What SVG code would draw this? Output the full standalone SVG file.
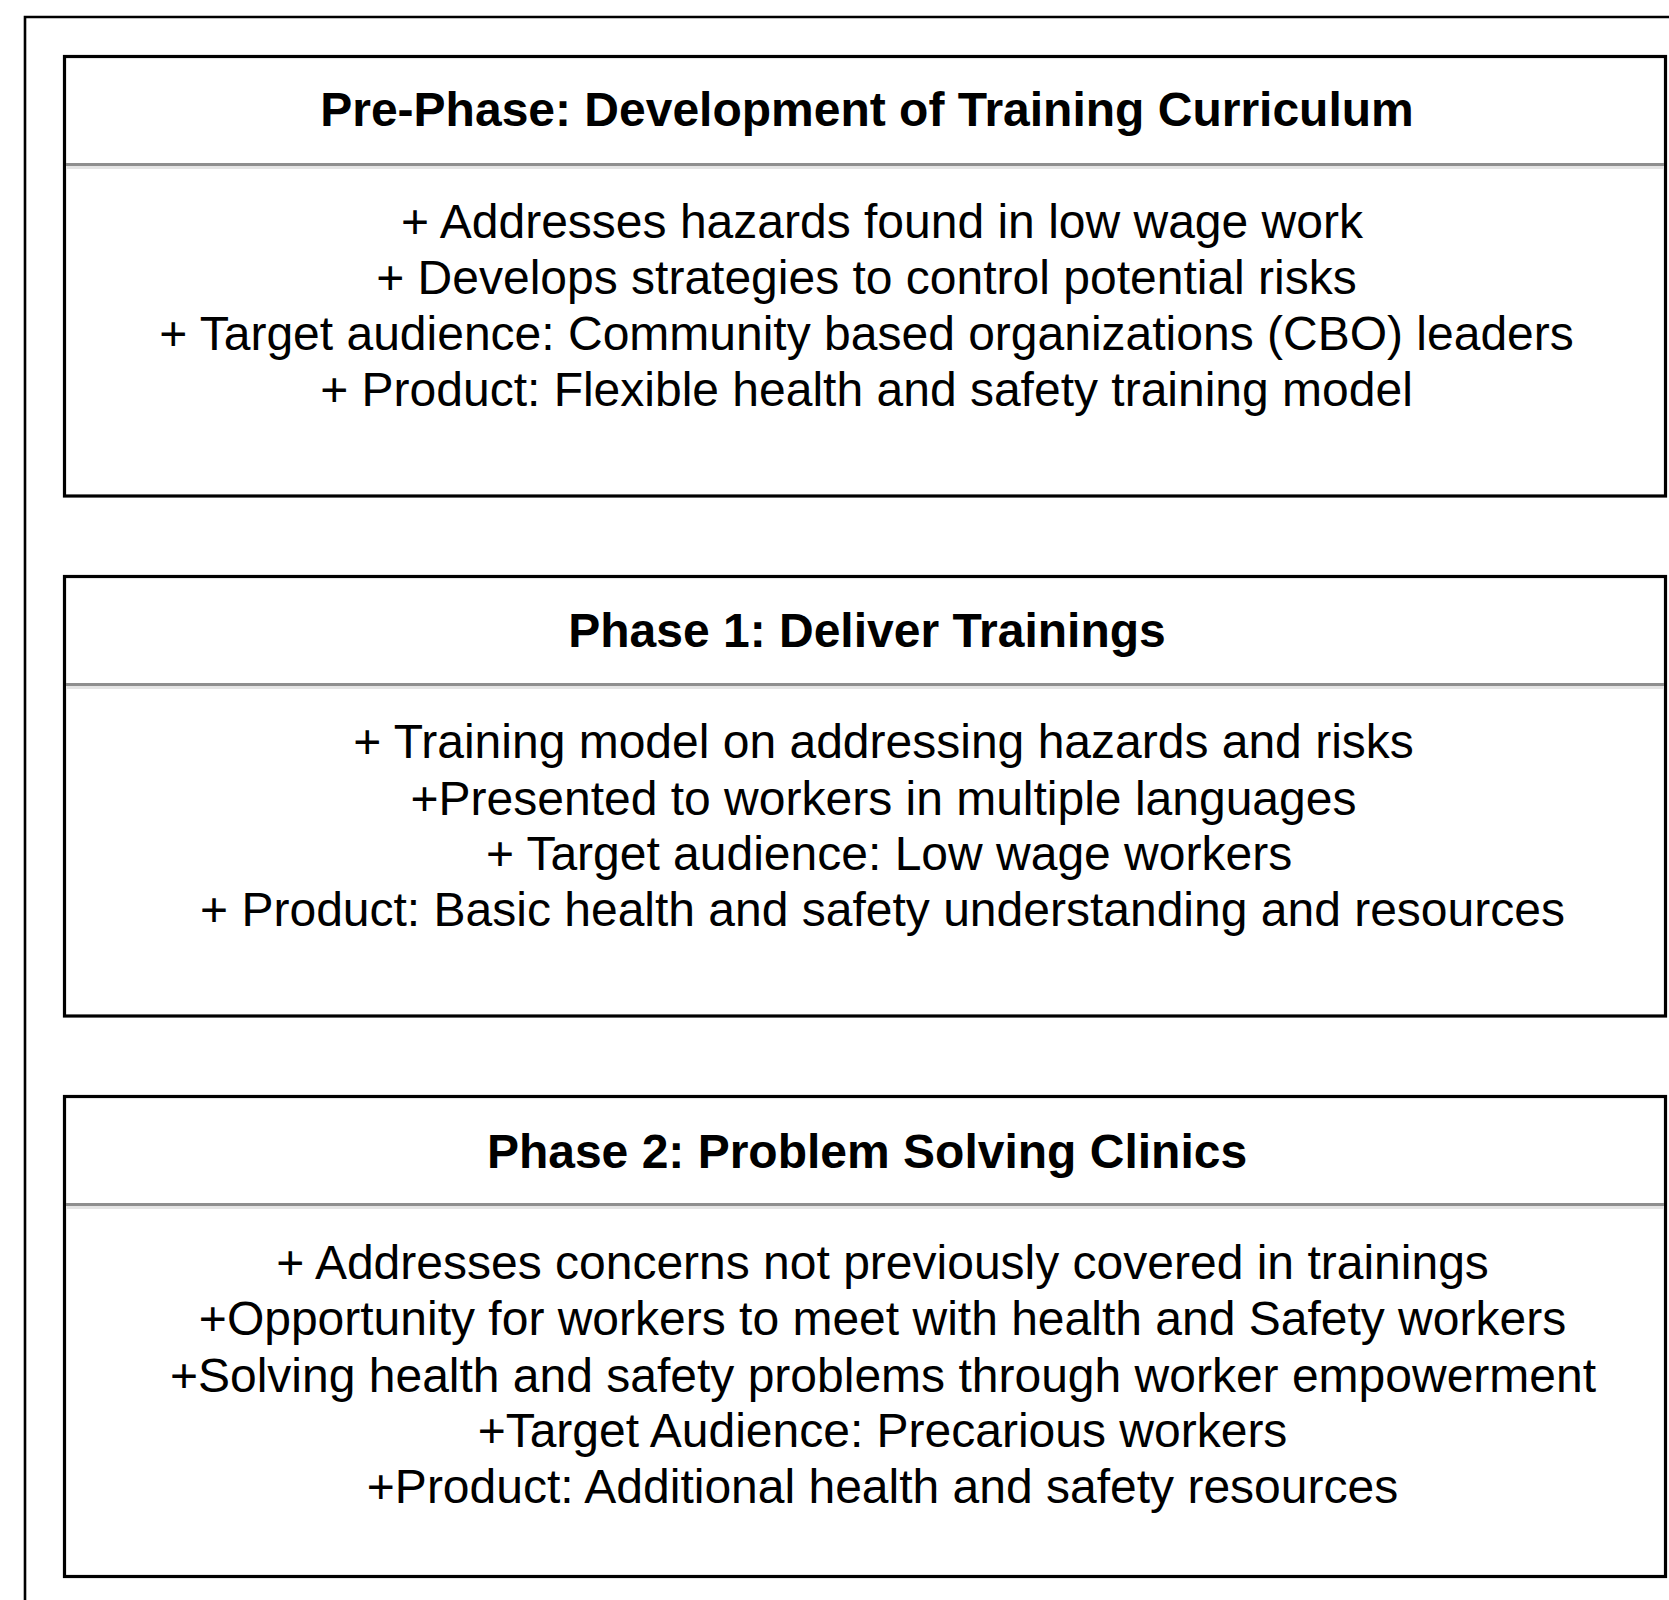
<svg xmlns="http://www.w3.org/2000/svg" width="1669" height="1600" viewBox="0 0 1669 1600">
  <style>
    .frame { fill: none; stroke: #000; stroke-width: 2.6; }
    .box { fill: #fff; stroke: #000; stroke-width: 3.2; }
    .sep { stroke: #8e8e8e; stroke-width: 3; }
    .sep-shade { stroke: #e4e4e4; stroke-width: 3; }
    .title { font-family: "Liberation Sans", Arial, Helvetica, sans-serif; font-weight: bold; font-size: 48px; fill: #000; text-anchor: middle; }
    .body { font-family: "Liberation Sans", Arial, Helvetica, sans-serif; font-size: 48px; fill: #000; text-anchor: middle; }
  </style>

  <rect width="1669" height="1600" fill="#fff"/>

  <!-- outer frame, open towards the right and bottom edges -->
  <path class="frame" d="M25,1600 V17 H1669"/>

  <!-- Pre-Phase -->
  <g id="pre-phase">
    <rect class="box" x="64.5" y="56.5" width="1601" height="439.5"/>
    <line class="sep-shade" x1="66" y1="167.5" x2="1664" y2="167.5"/>
    <line class="sep" x1="66" y1="164.5" x2="1664" y2="164.5"/>
    <text class="title" x="867" y="126">Pre-Phase: Development of Training Curriculum</text>
    <text class="body" x="882" y="238">+ Addresses hazards found in low wage work</text>
    <text class="body" x="866.5" y="294">+ Develops strategies to control potential risks</text>
    <text class="body" x="866.5" y="350">+ Target audience: Community based organizations (CBO) leaders</text>
    <text class="body" x="866.5" y="406">+ Product: Flexible health and safety training model</text>
  </g>

  <!-- Phase 1 -->
  <g id="phase-1">
    <rect class="box" x="64.5" y="576.5" width="1601" height="439.5"/>
    <line class="sep-shade" x1="66" y1="687.5" x2="1664" y2="687.5"/>
    <line class="sep" x1="66" y1="684.5" x2="1664" y2="684.5"/>
    <text class="title" x="867" y="647">Phase 1: Deliver Trainings</text>
    <text class="body" x="883.5" y="758">+ Training model on addressing hazards and risks</text>
    <text class="body" x="883.5" y="815">+Presented to workers in multiple languages</text>
    <text class="body" x="889" y="870">+ Target audience: Low wage workers</text>
    <text class="body" x="882.5" y="926">+ Product: Basic health and safety understanding and resources</text>
  </g>

  <!-- Phase 2 -->
  <g id="phase-2">
    <rect class="box" x="64.5" y="1096.5" width="1601" height="480"/>
    <line class="sep-shade" x1="66" y1="1207.5" x2="1664" y2="1207.5"/>
    <line class="sep" x1="66" y1="1204.5" x2="1664" y2="1204.5"/>
    <text class="title" x="867" y="1168">Phase 2: Problem Solving Clinics</text>
    <text class="body" x="882.5" y="1279">+ Addresses concerns not previously covered in trainings</text>
    <text class="body" x="882.5" y="1335">+Opportunity for workers to meet with health and Safety workers</text>
    <text class="body" x="883" y="1392">+Solving health and safety problems through worker empowerment</text>
    <text class="body" x="882.5" y="1447">+Target Audience: Precarious workers</text>
    <text class="body" x="882.5" y="1503">+Product: Additional health and safety resources</text>
  </g>

  <!-- no connectors between the phases -->
  <g id="connectors"/>
</svg>
